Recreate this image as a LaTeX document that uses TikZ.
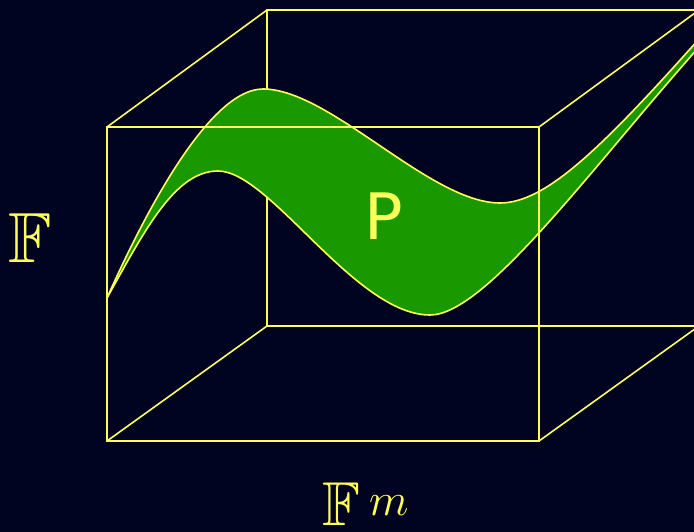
\RequirePackage{fix-cm}
\documentclass[tikz,border=0pt]{standalone}
\usepackage{amssymb}
\usepackage{fontspec}
\newfontfamily\pfont{DejaVu Sans}
\definecolor{bg}{RGB}{0,4,32}
\definecolor{yel}{RGB}{255,255,90}
\definecolor{grn}{RGB}{26,152,0}
\begin{document}
\begin{tikzpicture}[x=1pt,y=-1pt,
  boxline/.style={draw=yel,line width=1.6pt,line cap=round},
  ribbonedge/.style={draw=yel,line width=1.6pt,line cap=round},
  label/.style={text=yel,inner sep=0pt}]
\fill[bg] (0,0) rectangle (694,532);
\useasboundingbox (0,0) rectangle (694,532);
\begin{scope}
\clip (0,0) rectangle (694,532);
% box corners
\coordinate (fTL) at (107,127);
\coordinate (fTR) at (539,127);
\coordinate (fBL) at (107,441);
\coordinate (fBR) at (539,441);
\coordinate (bTL) at (267,10);
\coordinate (bTR) at (699,10);
\coordinate (bBL) at (267,326);
\coordinate (bBR) at (699,326);
% back face and connecting edges
\draw[boxline] (bTL) -- (bTR) -- (bBR) -- (bBL) -- cycle;
\draw[boxline] (fTL) -- (bTL);
\draw[boxline] (fTR) -- (bTR);
\draw[boxline] (fBL) -- (bBL);
\draw[boxline] (fBR) -- (bBR);
% ribbon
\coordinate (rL) at (107,298);
\fill[grn] (rL) .. controls (135,235) and (205,89) .. (263,89)
  .. controls (330,89) and (430,203) .. (500,203)
  .. controls (545,203) and (600,150) .. (699,39)
  -- (699,47) .. controls (590,170) and (485,315) .. (430,315)
  .. controls (355,315) and (270,171) .. (218,171)
  .. controls (175,171) and (145,230) .. (rL) -- cycle;
\draw[ribbonedge] (rL) .. controls (135,235) and (205,89) .. (263,89)
  .. controls (330,89) and (430,203) .. (500,203)
  .. controls (545,203) and (600,150) .. (699,39);
\draw[ribbonedge] (rL) .. controls (145,230) and (175,171) .. (218,171)
  .. controls (270,171) and (355,315) .. (430,315)
  .. controls (485,315) and (590,170) .. (699,47);
% front face
\draw[boxline] (fTL) -- (fTR) -- (fBR) -- (fBL) -- cycle;
\end{scope}
\node[label,anchor=base] (P) at (384,240) {\pfont\fontsize{64}{64}\selectfont P};
\node[label,anchor=base] (F) at (30,262) {\fontsize{71}{71}\selectfont$\mathbb{F}$};
\node[label,anchor=base west] (Fm) at (322,525) {\fontsize{62}{62}\selectfont$\mathbb{F}$\hspace{9pt}\raisebox{10pt}{\fontsize{46}{46}\selectfont$m$}};
\end{tikzpicture}
\end{document}
